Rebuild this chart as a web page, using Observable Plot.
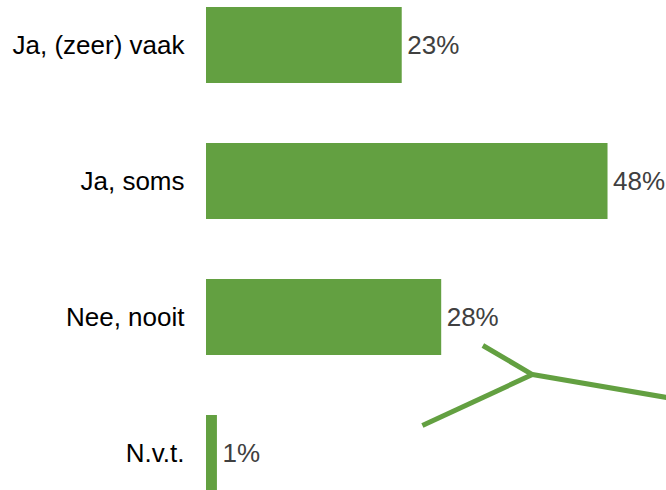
<!DOCTYPE html>
<html><head><meta charset="utf-8">
<script src="https://cdn.jsdelivr.net/npm/d3@7"></script>
<script src="https://cdn.jsdelivr.net/npm/@observablehq/plot@0.6"></script>
<style>
html,body{margin:0;padding:0;background:#fff}
#chart{position:relative;width:666px;height:490px;overflow:hidden}
#chart svg{position:absolute;left:0;top:0}
</style>
</head><body><div id="chart"></div>
<script>
const categories = ["Ja, (zeer) vaak", "Ja, soms", "Nee, nooit", "N.v.t."];
const values = [23.3, 47.8, 28.0, 1.3];
const valueLabels = ["23%", "48%", "28%", "1%"];
// decorative branch shape, in value (%) units along x and row units along y
const branchPart = ["a", "a", "a", "b", "b"];
const branchX = [32.9, 38.8, 54.8, 38.8, 25.7];
const branchY = [2.205, 2.418, 2.586, 2.418, 2.791];

const green = "#63a041";
const font = "'Liberation Sans', Arial, Helvetica, sans-serif";

const rows = categories.map((c, i) => ({category: c, value: values[i], label: valueLabels[i]}));
const branch = branchX.map((x, i) => ({x, y: branchY[i], part: branchPart[i]}));

const main = Plot.plot({
  width: 666,
  height: 490,
  marginLeft: 206,
  marginRight: 40,
  style: {fontFamily: font, background: "transparent", color: "#000"},
  x: {domain: [0, 50], axis: null},
  y: {domain: categories, range: [6, 491.5], paddingInner: 0.443, paddingOuter: 0, label: null},
  marks: [
    Plot.barX(rows, {x: "value", y: "category", fill: green}),
    Plot.text(rows, {x: "value", y: "category", text: "label", textAnchor: "start", dx: 5, fontSize: 26, fill: "#404040"}),
    Plot.axisY({tickSize: 0, tickPadding: 22, fontSize: 26, fill: "#000", label: null})
  ]
});

const deco = Plot.plot({
  width: 666,
  height: 490,
  marginLeft: 206,
  marginRight: 40,
  style: {background: "transparent"},
  x: {domain: [0, 50], axis: null},
  y: {domain: [0, 3], range: [44, 453.5], axis: null},
  marks: [
    Plot.line(branch, {x: "x", y: "y", z: "part", stroke: green, strokeWidth: 5, strokeLinecap: "butt", strokeLinejoin: "miter", clip: false})
  ]
});

document.getElementById("chart").append(main, deco);
</script>
</body></html>
